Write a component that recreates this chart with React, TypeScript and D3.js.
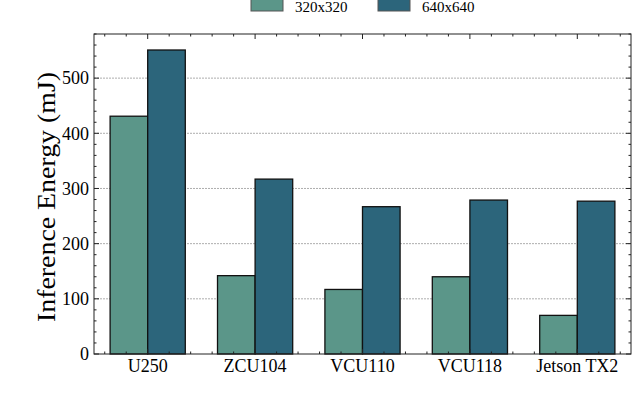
import React from "react";
import * as d3 from "d3";

// data
const devices = ["U250", "ZCU104", "VCU110", "VCU118", "Jetson TX2"];
const energy320 = [431, 142, 117, 140, 70];
const energy640 = [551, 317, 267, 279, 277];
const seriesNames = ["320x320", "640x640"];
const yTicks = [0, 100, 200, 300, 400, 500];

const W = 640, H = 399;
const left = 94, right = 631, top = 34, bottom = 354;
const colors = ["#5b9689", "#2c657b"];
const font = "'Liberation Serif', 'DejaVu Serif', serif";

export default function App() {
  const x = d3.scaleLinear().domain([-0.5, 4.5]).range([left, right]);
  const y = d3.scaleLinear().domain([0, 580]).range([bottom, top]);
  const bw = 0.35;

  const yMinor = d3.range(0, 581, 20).filter(v => v % 100 !== 0);
  const xMinor = d3.range(-0.4, 4.5, 0.2).filter(v => Math.abs(v - Math.round(v)) > 0.01);

  const series = [energy320, energy640];

  return (
    <div style={{ position: "absolute", left: 0, top: 0 }}>
      <svg width={W} height={H} style={{ display: "block", background: "#fff" }}>
        {/* grid */}
        {yTicks.slice(1).map(t => (
          <line key={"g" + t} x1={left} x2={right} y1={y(t)} y2={y(t)}
            stroke="#999" strokeWidth={0.8} strokeDasharray="2,1" />
        ))}
        {/* bars */}
        {series.map((vals, si) =>
          vals.map((v, i) => {
            const x0 = si === 0 ? x(i - bw) : x(i);
            const x1 = si === 0 ? x(i) : x(i + bw);
            return (
              <rect key={si + "-" + i} x={x0} y={y(v)} width={x1 - x0} height={y(0) - y(v)}
                fill={colors[si]} stroke="#111" strokeWidth={1.3} />
            );
          })
        )}
        {/* frame */}
        <rect x={left} y={top} width={right - left} height={bottom - top} fill="none" stroke="#222" strokeWidth={1} />
        {/* y ticks */}
        {yTicks.map(t => (
          <g key={"yt" + t}>
            <line x1={left} x2={left + 5} y1={y(t)} y2={y(t)} stroke="#222" />
            <line x1={right} x2={right - 5} y1={y(t)} y2={y(t)} stroke="#222" />
            <text x={left - 5} y={y(t)} dy="0.35em" textAnchor="end" fontSize={18} fontFamily={font}>{t}</text>
          </g>
        ))}
        {yMinor.map(t => (
          <g key={"ym" + t}>
            <line x1={left} x2={left + 2.5} y1={y(t)} y2={y(t)} stroke="#222" />
            <line x1={right} x2={right - 2.5} y1={y(t)} y2={y(t)} stroke="#222" />
          </g>
        ))}
        {/* x ticks */}
        {devices.map((d, i) => (
          <g key={"xt" + d}>
            <line x1={x(i)} x2={x(i)} y1={bottom} y2={bottom - 5} stroke="#222" />
            <line x1={x(i)} x2={x(i)} y1={top} y2={top + 5} stroke="#222" />
            <text x={x(i)} y={bottom + 18} textAnchor="middle" fontSize={18} fontFamily={font}>{d}</text>
          </g>
        ))}
        {xMinor.map(t => (
          <g key={"xm" + t}>
            <line x1={x(t)} x2={x(t)} y1={bottom} y2={bottom - 2.5} stroke="#222" />
            <line x1={x(t)} x2={x(t)} y1={top} y2={top + 2.5} stroke="#222" />
          </g>
        ))}
        {/* y label */}
        <text transform={`translate(55,197) rotate(-90)`} textAnchor="middle" fontSize={25} fontFamily={font}
          textLength={250} lengthAdjust="spacingAndGlyphs">
          Inference Energy (mJ)
        </text>
        {/* legend */}
        {seriesNames.map((n, i) => {
          const lx = i === 0 ? 251 : 378;
          return (
            <g key={"lg" + n}>
              <rect x={lx} y={-2} width={32} height={13} fill={colors[i]} stroke="#555" strokeWidth={1} />
              <text x={lx + 44} y={11.5} fontSize={15} fontFamily={font}>{n}</text>
            </g>
          );
        })}
      </svg>
    </div>
  );
}
